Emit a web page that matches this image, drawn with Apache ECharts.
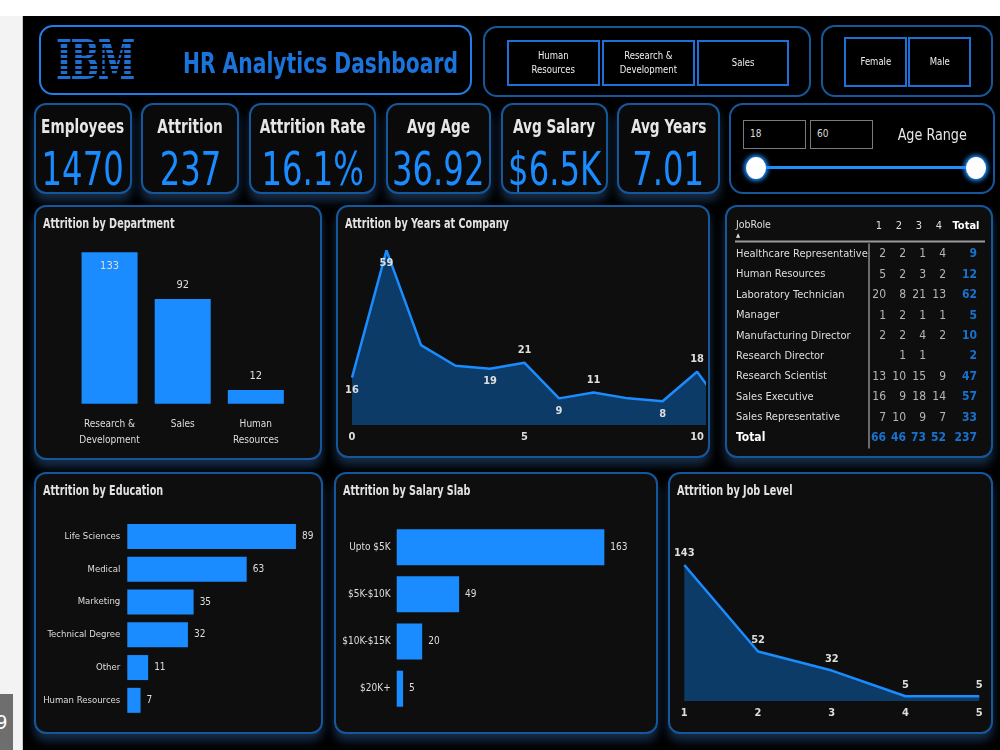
<!DOCTYPE html>
<html lang="en">
<head>
<meta charset="UTF-8" />
<title>HR Analytics Dashboard</title>
<script src="https://cdn.jsdelivr.net/npm/echarts@6/dist/echarts.min.js"></script>
<style>
	body { margin: 0; width: 1000px; height: 750px; overflow: hidden; background: #fff; position: relative;
		font-family: "DejaVu Sans Condensed", sans-serif; }
	.strip { position: absolute; left: 0; top: 16px; width: 22px; height: 734px; background: #f3f3f4; border-right: 1px solid #c9c9c9; }
	.pager { position: absolute; left: 0; top: 694px; width: 13px; height: 56px; background: #6e6e6e; color: #fff; font-size: 20px; line-height: 56px; text-indent: -4px; overflow: hidden; }
	.dash { position: absolute; left: 23px; top: 16px; width: 977px; height: 734px; background: #000; }
	.box { position: absolute; box-sizing: border-box; border: 2px solid #16579c; border-radius: 12px; background: #0e0e0e; box-shadow: 0 7px 10px rgba(40, 80, 130, .55); }
	.head { border: 2.5px solid #1f7fe6; border-radius: 14px; background: #000; box-shadow: none; }
	.filt { background: #000; border-radius: 14px; box-shadow: none; }
	.btn { position: absolute; box-sizing: border-box; border: 2px solid #1d70d6; color: #eee; font-size: 11px; line-height: 14px; display: flex; align-items: center; justify-content: center; text-align: center; }
	.btn span { display: inline-block; transform: scaleX(.86); white-space: nowrap; }
	.sq { display: flex; justify-content: center; white-space: nowrap; }
	.sq span { display: inline-block; transform: scaleX(.76); }
	.kpi .t { position: absolute; left: 0; right: 0; top: 9px; color: #e6e6e6; font-size: 20px; font-weight: bold; }
	.kpi .v { position: absolute; left: 0; right: 0; top: 37px; color: #1a8cff; font-size: 46px; }
	.ptitle { position: absolute; left: 7px; top: 8px; color: #e2e2e2; font-size: 14.5px; font-weight: bold; white-space: nowrap; transform: scaleX(.74); transform-origin: left top; }
	.ibm { position: absolute; left: 56px; top: 33px; font-family: "DejaVu Serif Condensed", "DejaVu Serif", serif; font-weight: bold; font-size: 54px; line-height: 54px; letter-spacing: -2px;
		color: transparent; background: repeating-linear-gradient(to bottom, #1f6fd0 0 3.3px, transparent 3.3px 5.3px); background-position: 0 6px;
		-webkit-background-clip: text; background-clip: text; transform: scaleX(0.7); transform-origin: left top; }
	.title { position: absolute; left: 183px; top: 46px; color: #1b74dc; font-size: 29px; font-weight: bold; white-space: nowrap; transform-origin: left top; }
	.inp { position: absolute; box-sizing: border-box; border: 1.5px solid #7a7a7a; color: #ddd; font-size: 10px; padding-left: 6px; line-height: 26px; }
	.track { position: absolute; left: 756px; top: 166px; width: 220px; height: 3px; background: #1e8fff; }
	.knob { position: absolute; width: 20px; height: 22px; border-radius: 50%; background: #fff; box-shadow: 0 0 4px 2px #1e8fff; }
	#chart { position: absolute; left: 0; top: 0; width: 1000px; height: 750px; z-index: 10; }
</style>
</head>
<body>
	<div class="strip"></div>
	<div class="pager">9</div>
	<div class="dash"></div>

	<div class="box head" style="left:39px;top:25px;width:433px;height:70px"></div>
	<div class="ibm">IBM</div>
	<div class="title" id="title">HR Analytics Dashboard</div>

	<div class="box filt" style="left:483px;top:26px;width:328px;height:71px"></div>
	<div class="btn" style="left:507px;top:40px;width:93px;height:46px"><span>Human<br />Resources</span></div>
	<div class="btn" style="left:602px;top:40px;width:93px;height:46px"><span>Research &amp;<br />Development</span></div>
	<div class="btn" style="left:697px;top:40px;width:92px;height:46px"><span>Sales</span></div>

	<div class="box filt" style="left:821px;top:25px;width:172px;height:72px"></div>
	<div class="btn" style="left:844px;top:37px;width:63px;height:50px"><span>Female</span></div>
	<div class="btn" style="left:908px;top:37px;width:63px;height:50px"><span>Male</span></div>

	<div id="kpis"></div>

	<div class="box filt" style="left:729px;top:103px;width:266px;height:91px"></div>
	<div class="inp" style="left:743px;top:120px;width:63px;height:29px">18</div>
	<div class="inp" style="left:810px;top:120px;width:63px;height:29px">60</div>
	<div class="sq" style="position:absolute;left:880px;top:125px;width:104px;color:#e6e6e6;font-size:16.5px"><span style="transform:scaleX(.86)">Age Range</span></div>
	<div class="track"></div>
	<div class="knob" style="left:746px;top:157px"></div>
	<div class="knob" style="left:966px;top:157px"></div>

	<div class="box" style="left:34px;top:205px;width:288px;height:255px"><div class="ptitle">Attrition by Department</div></div>
	<div class="box" style="left:336px;top:205px;width:374px;height:253px"><div class="ptitle">Attrition by Years at Company</div></div>
	<div class="box" style="left:725px;top:205px;width:268px;height:253px"></div>
	<div class="box" style="left:34px;top:472px;width:289px;height:262px"><div class="ptitle">Attrition by Education</div></div>
	<div class="box" style="left:334px;top:472px;width:324px;height:262px"><div class="ptitle">Attrition by Salary Slab</div></div>
	<div class="box" style="left:668px;top:472px;width:325px;height:262px"><div class="ptitle">Attrition by Job Level</div></div>

	<div id="chart"></div>

	<script>
		// headline numbers
		const kpiNames = ["Employees", "Attrition", "Attrition Rate", "Avg Age", "Avg Salary", "Avg Years"];
		const kpiValues = ["1470", "237", "16.1%", "36.92", "$6.5K", "7.01"];

		// attrition by department
		const deptNames = ["Research &\nDevelopment", "Sales", "Human\nResources"];
		const deptAttrition = [133, 92, 12];

		// attrition by years at company
		const yearsAtCompany = [0, 1, 2, 3, 4, 5, 6, 7, 8, 9, 10, 11];
		const yearsAttrition = [16, 59, 27, 20, 19, 21, 9, 11, 9, 8, 18, 2];

		// job role x job satisfaction matrix
		const jobRoles = ["Healthcare Representative", "Human Resources", "Laboratory Technician", "Manager",
			"Manufacturing Director", "Research Director", "Research Scientist", "Sales Executive", "Sales Representative"];
		const levelCols = ["1", "2", "3", "4"];
		const roleByLevel = [
			[2, 2, 1, 4],
			[5, 2, 3, 2],
			[20, 8, 21, 13],
			[1, 2, 1, 1],
			[2, 2, 4, 2],
			[null, 1, 1, null],
			[13, 10, 15, 9],
			[16, 9, 18, 14],
			[7, 10, 9, 7]
		];
		const roleTotals = [9, 12, 62, 5, 10, 2, 47, 57, 33];
		const levelTotals = [66, 46, 73, 52];
		const grandTotal = 237;

		// attrition by education field
		const eduFields = ["Life Sciences", "Medical", "Marketing", "Technical Degree", "Other", "Human Resources"];
		const eduAttrition = [89, 63, 35, 32, 11, 7];

		// attrition by salary slab
		const salarySlabs = ["Upto $5K", "$5K-$10K", "$10K-$15K", "$20K+"];
		const salaryAttrition = [163, 49, 20, 5];

		// attrition by job level
		const jobLevels = ["1", "2", "3", "4", "5"];
		const jobLevelAttrition = [143, 52, 32, 5, 5];

		// kpi cards
		const kpiBoxes = [[34, 98], [141, 98], [249, 127], [386, 105], [501, 107], [617, 103]];
		const kpis = document.getElementById("kpis");
		kpiNames.forEach((name, i) => {
			const d = document.createElement("div");
			d.className = "box kpi";
			d.style.cssText = `left:${kpiBoxes[i][0]}px;top:103px;width:${kpiBoxes[i][1]}px;height:91px;background:#0a0a0a`;
			d.innerHTML = `<div class="t sq"><span>${name}</span></div><div class="v sq"><span style="transform:scaleX(.78)">${kpiValues[i]}</span></div>`;
			kpis.appendChild(d);
		});

		// squeeze the header title to the width it has in the report
		const title = document.getElementById("title");
		title.style.transform = `scaleX(${275 / title.offsetWidth})`;

		const FONT = '"DejaVu Sans Condensed", sans-serif';
		const LIGHT = "#dedede";
		const BLUE = "#1a8cff";
		const AREA = "#0c3b68";

		// which year points carry a label, and on which side
		const yearLabelSide = { 0: "bottom", 1: "bottom", 4: "bottom", 5: "top", 6: "bottom", 7: "top", 9: "bottom", 10: "top" };
		const deptLabelSide = ["insideTop", "top", "top"];

		const rows = jobRoles.concat(["Total"]);
		const cellData = [];
		roleByLevel.forEach((r, ri) => r.forEach((v, ci) => {
			if (v !== null) cellData.push([ci, ri, v]);
		}));
		levelTotals.forEach((v, ci) => cellData.push({ value: [ci, jobRoles.length, v], label: { color: BLUE, fontWeight: "bold" } }));
		const totalData = roleTotals.map((v, ri) => [0, ri, v]);
		totalData.push([0, jobRoles.length, grandTotal]);

		const hidden = { show: false };
		const txt = { fontFamily: FONT, color: LIGHT, fontSize: 10 };

		const myChart = echarts.init(document.getElementById("chart"), null, { renderer: "canvas" });
		myChart.setOption({
			backgroundColor: "transparent",
			animation: false,
			textStyle: { fontFamily: FONT },
			grid: [
				{ left: 73, top: 244.4, width: 219.4, height: 159.3 },
				{ left: 352, top: 247.4, width: 352, height: 177.6 },
				{ left: 869, top: 244, width: 80, height: 204 },
				{ left: 950, top: 244, width: 32, height: 204 },
				{ left: 127.3, top: 520.1, width: 189.5, height: 196.6 },
				{ left: 396.7, top: 523.6, width: 229.3, height: 188.7 },
				{ left: 684.3, top: 558.3, width: 295, height: 142.7 }
			],
			xAxis: [
				{ gridIndex: 0, type: "category", data: deptNames, axisLine: hidden, axisTick: hidden,
					axisLabel: { ...txt, interval: 0, lineHeight: 16, margin: 13 } },
				{ gridIndex: 1, type: "value", min: 0, max: 10.2, interval: 5, splitLine: hidden, axisLine: hidden, axisTick: hidden,
					axisLabel: { ...txt, fontWeight: "bold", fontSize: 11, margin: 7, formatter: (v) => (v % 5 === 0 ? v : "") } },
				{ gridIndex: 2, type: "category", data: levelCols, position: "top", axisLine: hidden, axisTick: hidden,
					axisLabel: { ...txt, fontSize: 11, margin: 12 } },
				{ gridIndex: 3, type: "category", data: ["Total"], position: "top", axisLine: hidden, axisTick: hidden,
					axisLabel: { ...txt, fontSize: 11, fontWeight: "bold", color: "#fff", margin: 12 } },
				{ gridIndex: 4, type: "value", min: 0, max: 100, show: false },
				{ gridIndex: 5, type: "value", min: 0, max: 180, show: false },
				{ gridIndex: 6, type: "category", data: jobLevels, boundaryGap: false, axisLine: hidden, axisTick: hidden,
					axisLabel: { ...txt, fontWeight: "bold", fontSize: 11, margin: 7 } }
			],
			yAxis: [
				{ gridIndex: 0, type: "value", min: 0, max: 140, show: false },
				{ gridIndex: 1, type: "value", min: 0, max: 60, show: false },
				{ gridIndex: 2, type: "category", data: rows, inverse: true, axisTick: hidden,
					axisLine: { lineStyle: { color: "#8a8a8a", width: 1.5 } },
					axisLabel: { ...txt, fontSize: 11, align: "left", margin: 133,
						formatter: (v) => (v === "Total" ? "{b|Total}" : v),
						rich: { b: { fontFamily: FONT, fontSize: 12, fontWeight: "bold", color: "#fff" } } } },
				{ gridIndex: 3, type: "category", data: rows, inverse: true, show: false },
				{ gridIndex: 4, type: "category", data: eduFields, inverse: true, axisLine: hidden, axisTick: hidden,
					axisLabel: { ...txt, fontSize: 9.5, margin: 7 } },
				{ gridIndex: 5, type: "category", data: salarySlabs, inverse: true, axisLine: hidden, axisTick: hidden,
					axisLabel: { ...txt, margin: 6 } },
				{ gridIndex: 6, type: "value", min: 0, max: 150, show: false }
			],
			graphic: [
				{ type: "text", left: 736, top: 220, style: { text: "JobRole", fill: LIGHT, font: "10.5px " + FONT } },
				{ type: "text", left: 736, top: 232, style: { text: "\u25B2", fill: LIGHT, font: "6px " + FONT } },
				{ type: "line", shape: { x1: 735, y1: 241.5, x2: 985, y2: 241.5 }, style: { stroke: "#9a9a9a", lineWidth: 2 } }
			],
			series: [
				{
					type: "bar", xAxisIndex: 0, yAxisIndex: 0, barWidth: 56,
					itemStyle: { color: BLUE },
					data: deptAttrition.map((v, i) => ({ value: v, label: { position: deptLabelSide[i] } })),
					label: { show: true, ...txt, fontSize: 11, distance: 8 }
				},
				{
					type: "line", xAxisIndex: 1, yAxisIndex: 1, symbol: "circle", symbolSize: 0,
					lineStyle: { color: BLUE, width: 2.5 }, itemStyle: { color: BLUE },
					areaStyle: { color: AREA, opacity: 1 },
					data: yearsAtCompany.map((y, i) => ({
						value: [y, yearsAttrition[i]],
						label: yearLabelSide[i] ? { show: true, position: yearLabelSide[i] } : { show: false }
					})),
					label: { ...txt, fontSize: 11, fontWeight: "bold", distance: 7 }
				},
				{
					type: "scatter", xAxisIndex: 2, yAxisIndex: 2, symbolSize: 0, data: cellData,
					label: { show: true, position: "inside", align: "right", offset: [7, 0], ...txt, fontSize: 12, formatter: (p) => p.value[2] }
				},
				{
					type: "scatter", xAxisIndex: 3, yAxisIndex: 3, symbolSize: 0, data: totalData,
					label: { show: true, position: "inside", align: "right", offset: [11, 0], ...txt, fontSize: 12, color: BLUE, fontWeight: "bold", formatter: (p) => p.value[2] }
				},
				{
					type: "bar", xAxisIndex: 4, yAxisIndex: 4, barWidth: 25, data: eduAttrition,
					itemStyle: { color: BLUE },
					label: { show: true, position: "right", distance: 6, ...txt }
				},
				{
					type: "bar", xAxisIndex: 5, yAxisIndex: 5, barWidth: 36, data: salaryAttrition,
					itemStyle: { color: BLUE },
					label: { show: true, position: "right", distance: 6, ...txt }
				},
				{
					type: "line", xAxisIndex: 6, yAxisIndex: 6, symbol: "circle", symbolSize: 0, data: jobLevelAttrition,
					lineStyle: { color: BLUE, width: 2.5 }, itemStyle: { color: BLUE },
					areaStyle: { color: AREA, opacity: 1 },
					label: { show: true, position: "top", distance: 6, ...txt, fontWeight: "bold", fontSize: 11 }
				}
			]
		});
	</script>
</body>
</html>
